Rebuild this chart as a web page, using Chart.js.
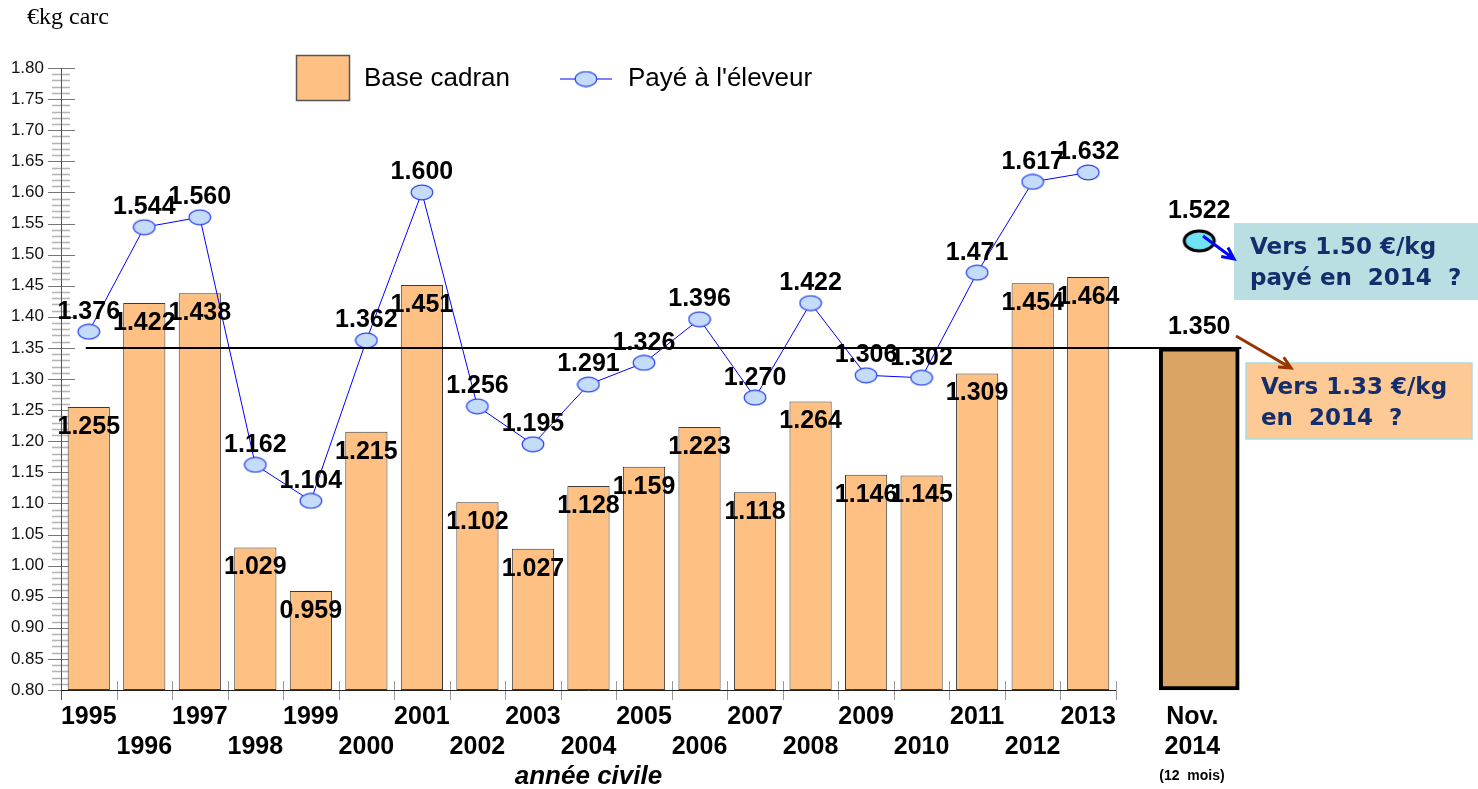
<!DOCTYPE html>
<html>
<head>
<meta charset="utf-8">
<script src="https://cdn.jsdelivr.net/npm/chart.js@4.4.0/dist/chart.umd.min.js"></script>
<style>
  body { margin: 0; background: #fff; }
  canvas { display: block; }
</style>
</head>
<body>
<canvas id="prixChart" width="1478" height="789"></canvas>
<script>
// Data
const years = ["1995", "1996", "1997", "1998", "1999", "2000", "2001", "2002", "2003", "2004",
  "2005", "2006", "2007", "2008", "2009", "2010", "2011", "2012", "2013"];
const baseCadran = [1.255, 1.422, 1.438, 1.029, 0.959, 1.215, 1.451, 1.102, 1.027, 1.128,
  1.159, 1.223, 1.118, 1.264, 1.146, 1.145, 1.309, 1.454, 1.464];
const payeEleveur = [1.376, 1.544, 1.560, 1.162, 1.104, 1.362, 1.600, 1.256, 1.195, 1.291,
  1.326, 1.396, 1.270, 1.422, 1.306, 1.302, 1.471, 1.617, 1.632];
const nov2014Label = ["Nov.  ", "2014  "];
const nov2014Cadran = 1.350;
const nov2014Paye = 1.522;
const refLevel = 1.35;
const yTicks = [0.80, 0.85, 0.90, 0.95, 1.00, 1.05, 1.10, 1.15, 1.20, 1.25, 1.30, 1.35, 1.40,
  1.45, 1.50, 1.55, 1.60, 1.65, 1.70, 1.75, 1.80];

// staggered year labels: odd rows on first line, even rows on second
const labels = years.map((y, i) => (i % 2 === 0 ? [y, ""] : ["", y]));
labels.push(["", ""]);
labels.push(nov2014Label);

const pad = (arr, n) => arr.concat(new Array(n - arr.length).fill(null));
const N = labels.length;

function ellipseStyle(w, h, fill, stroke, lw) {
  const c = document.createElement("canvas");
  c.width = w;
  c.height = h;
  const g = c.getContext("2d");
  g.beginPath();
  g.ellipse(w / 2, h / 2, w / 2 - lw, h / 2 - lw, 0, 0, Math.PI * 2);
  g.fillStyle = fill;
  g.fill();
  g.lineWidth = lw;
  g.strokeStyle = stroke;
  g.stroke();
  return c;
}
const bluePoint = ellipseStyle(24, 17, "#c4dcfa", "#2a45f0", 1.2);
const cyanPoint = ellipseStyle(36, 26, "#6fe2f3", "#000000", 3);

const FONT = '"Liberation Sans", Arial, sans-serif';

const drawExtras = {
  id: "drawExtras",
  beforeDatasetsDraw(chart) {
    const { ctx, chartArea } = chart;
    const xs = chart.scales.x;
    const ys = chart.scales.y;
    const step = xs.getPixelForValue(1) - xs.getPixelForValue(0);
    const xEnd = xs.getPixelForValue(years.length - 1) + step / 2;
    ctx.save();
    // y axis minor / major ticks
    ctx.lineWidth = 1.6;
    ctx.strokeStyle = "#b5b5b5";
    for (let v = 80; v < 180; v++) {
      if (v % 5 === 0) continue;
      const y = Math.round(ys.getPixelForValue(v / 100)) + 0.5;
      ctx.beginPath();
      ctx.moveTo(chartArea.left - 9, y);
      ctx.lineTo(chartArea.left + 9, y);
      ctx.stroke();
    }
    ctx.lineWidth = 1;
    ctx.strokeStyle = "#777";
    yTicks.forEach((v) => {
      const y = Math.round(ys.getPixelForValue(v)) + 0.5;
      ctx.beginPath();
      ctx.moveTo(chartArea.left - 13, y);
      ctx.lineTo(chartArea.left + 14, y);
      ctx.stroke();
    });
    // x axis ticks between categories
    ctx.strokeStyle = "#999";
    for (let i = 0; i <= years.length; i++) {
      const x = Math.round(xs.getPixelForValue(i) - step / 2) + 0.5;
      ctx.beginPath();
      ctx.moveTo(x, chartArea.bottom - 9);
      ctx.lineTo(x, chartArea.bottom + 10);
      ctx.stroke();
    }
    // axis lines
    ctx.strokeStyle = "#555";
    ctx.beginPath();
    ctx.moveTo(chartArea.left + 0.5, chartArea.top);
    ctx.lineTo(chartArea.left + 0.5, chartArea.bottom + 10);
    ctx.stroke();
    ctx.strokeStyle = "#222";
    ctx.beginPath();
    ctx.moveTo(chartArea.left, chartArea.bottom + 0.5);
    ctx.lineTo(xEnd, chartArea.bottom + 0.5);
    ctx.stroke();
    ctx.restore();
  },
  afterDatasetsDraw(chart) {
    const { ctx, chartArea } = chart;
    const xs = chart.scales.x;
    const ys = chart.scales.y;
    ctx.save();

    // reference line at 1.35
    const barEl = chart.getDatasetMeta(1).data[N - 1];
    const yRef = ys.getPixelForValue(refLevel);
    ctx.strokeStyle = "#000";
    ctx.lineWidth = 2;
    ctx.beginPath();
    ctx.moveTo(xs.getPixelForValue(0) - 3, yRef);
    ctx.lineTo(barEl.x + barEl.width / 2 + 2, yRef);
    ctx.stroke();

    // value labels
    ctx.font = "bold 25px " + FONT;
    ctx.fillStyle = "#000";
    ctx.textAlign = "center";
    ctx.textBaseline = "middle";
    chart.data.datasets.forEach((ds, di) => {
      const meta = chart.getDatasetMeta(di);
      meta.data.forEach((el, i) => {
        const v = ds.data[i];
        if (v == null) return;
        ctx.fillText(v.toFixed(3), el.x, el.y + ds.labelShift);
      });
    });

    // (12 mois)
    const xl = xs.getPixelForValue(N - 1);
    ctx.font = "bold 14px " + FONT;
    ctx.textAlign = "left";
    ctx.fillText("(12  mois)", xl - 40, chartArea.bottom + 86);

    // axis title, centred under the yearly categories
    const xMid = (xs.getPixelForValue(0) + xs.getPixelForValue(years.length - 1)) / 2;
    ctx.font = "italic bold 26px " + FONT;
    ctx.textAlign = "center";
    ctx.fillText("année civile", xMid, chartArea.bottom + 87);

    // unit
    ctx.font = '24px "Liberation Serif", "Times New Roman", serif';
    ctx.textAlign = "left";
    ctx.fillText("€kg carc", 27, 18);

    // legend
    const ds0 = chart.data.datasets[0];
    ctx.fillStyle = ds0.backgroundColor;
    ctx.fillRect(296, 55, 54, 46);
    ctx.strokeStyle = "#555";
    ctx.lineWidth = 1.5;
    ctx.strokeRect(296.5, 55.5, 53, 45);
    ctx.fillStyle = "#000";
    ctx.font = "26px " + FONT;
    ctx.fillText("Base cadran", 364, 79);
    ctx.strokeStyle = "#0000ff";
    ctx.lineWidth = 1;
    ctx.beginPath();
    ctx.moveTo(560, 79);
    ctx.lineTo(612, 79);
    ctx.stroke();
    ctx.drawImage(bluePoint, 586 - 12, 79 - 8.5);
    ctx.fillText("Payé à l'éleveur", 628, 79);

    // annotation boxes
    ctx.fillStyle = "#b9dfe3";
    ctx.fillRect(1234, 223, 244, 77);
    ctx.fillStyle = "#fdc995";
    ctx.fillRect(1246, 363, 226, 76);
    ctx.strokeStyle = "#a9dbe6";
    ctx.lineWidth = 1.5;
    ctx.strokeRect(1246, 363, 226, 76);
    ctx.fillStyle = "#132e6b";
    ctx.font = 'bold 23px "DejaVu Sans", Verdana, sans-serif';
    ctx.fillText("Vers 1.50 €/kg", 1250, 248);
    ctx.fillText("payé en  2014  ?", 1250, 279);
    ctx.fillText("Vers 1.33 €/kg", 1261, 388);
    ctx.fillText("en  2014  ?", 1261, 419);

    // arrows
    arrow(ctx, 1203, 236, 1234, 259, "#0000ff");
    arrow(ctx, 1236, 336, 1291, 368, "#993300");

    ctx.restore();
  },
};

function arrow(ctx, x1, y1, x2, y2, color) {
  const a = Math.atan2(y2 - y1, x2 - x1);
  ctx.strokeStyle = color;
  ctx.lineWidth = 3;
  ctx.beginPath();
  ctx.moveTo(x1, y1);
  ctx.lineTo(x2, y2);
  ctx.moveTo(x2 - 13 * Math.cos(a - 0.45), y2 - 13 * Math.sin(a - 0.45));
  ctx.lineTo(x2, y2);
  ctx.lineTo(x2 - 13 * Math.cos(a + 0.45), y2 - 13 * Math.sin(a + 0.45));
  ctx.stroke();
}

const ctx = document.getElementById("prixChart").getContext("2d");
new Chart(ctx, {
  data: {
    labels: labels,
    datasets: [
      {
        type: "bar",
        label: "Base cadran",
        data: pad(baseCadran, N),
        backgroundColor: "#ffc183",
        borderColor: "#3a3a3a",
        borderWidth: 1,
        borderSkipped: false,
        barPercentage: 0.76,
        categoryPercentage: 1,
        grouped: false,
        base: 0.8,
        labelShift: 20,
        order: 3,
      },
      {
        type: "bar",
        label: "Nov. 2014",
        data: pad([], N - 1).concat([nov2014Cadran]),
        backgroundColor: "#d9a464",
        borderColor: "#000",
        borderWidth: 4,
        borderSkipped: false,
        barThickness: 80,
        grouped: false,
        base: 0.8,
        clip: false,
        labelShift: -21,
        order: 2,
      },
      {
        type: "line",
        label: "Payé à l'éleveur",
        data: pad(payeEleveur, N),
        borderColor: "#0000ff",
        borderWidth: 1,
        pointStyle: bluePoint,
        pointRadius: 8,
        spanGaps: false,
        clip: false,
        labelShift: -20,
        order: 1,
      },
      {
        type: "line",
        label: "Payé 2014",
        data: pad([], N - 1).concat([nov2014Paye]),
        showLine: false,
        pointStyle: cyanPoint,
        pointRadius: 12,
        clip: false,
        labelShift: -30,
        order: 0,
      },
    ],
  },
  options: {
    responsive: false,
    animation: false,
    devicePixelRatio: 1,
    layout: { padding: { left: 0, top: 68, right: 251, bottom: 0 } },
    plugins: { legend: { display: false }, tooltip: { enabled: false } },
    scales: {
      x: {
        type: "category",
        offset: true,
        grid: { display: false, drawTicks: false },
        border: { display: false },
        ticks: {
          autoSkip: false,
          maxRotation: 0,
          padding: 12,
          color: "#000",
          font: { family: FONT, size: 25, weight: "bold", lineHeight: 1.2 },
        },
        afterFit: (s) => { s.height = 99; },
      },
      y: {
        min: 0.8,
        max: 1.8,
        grid: { display: false, drawTicks: false },
        border: { display: false },
        ticks: {
          stepSize: 0.05,
          autoSkip: false,
          padding: 17,
          color: "#111",
          font: { family: FONT, size: 17 },
          callback: (v) => v.toFixed(2),
        },
        afterFit: (s) => { s.width = 61; },
      },
    },
  },
  plugins: [drawExtras],
});
</script>
</body>
</html>
